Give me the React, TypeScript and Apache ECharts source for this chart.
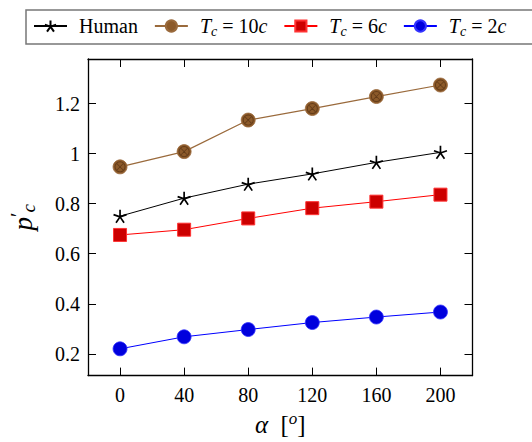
import React, { useEffect, useRef } from "react";
import * as echarts from "echarts";

const alphaDeg = [0, 40, 80, 120, 160, 200];
const human = [0.75, 0.822, 0.878, 0.919, 0.965, 1.005];
const tc10 = [0.947, 1.008, 1.134, 1.18, 1.228, 1.274];
const tc6 = [0.675, 0.696, 0.741, 0.782, 0.808, 0.836];
const tc2 = [0.22, 0.268, 0.297, 0.325, 0.347, 0.367];
const xTicks = [0, 40, 80, 120, 160, 200];
const yTicks = [0.2, 0.4, 0.6, 0.8, 1, 1.2];
const seriesNames = ["Human", "Tc10", "Tc6", "Tc2"];
const legendLabels: Record<string, string> = {
  Human: "{n|Human}",
  Tc10: "{it|T}{sub|c}{n| = 10}{it|c}",
  Tc6: "{it|T}{sub|c}{n| = 6}{it|c}",
  Tc2: "{it|T}{sub|c}{n| = 2}{it|c}",
};

const FONT = "'Liberation Serif', 'Times New Roman', 'DejaVu Serif', serif";

const STAR =
  "path://M0,-10 L0,0 M9.51,-3.09 L0,0 M5.88,8.09 L0,0 M-5.88,8.09 L0,0 M-9.51,-3.09 L0,0";
const OTIMES =
  "path://M10,0 A10,10 0 1,1 -10,0 A10,10 0 1,1 10,0 Z M8.3,0 A8.3,8.3 0 1,0 -8.3,0 A8.3,8.3 0 1,0 8.3,0 Z " +
  "M-6.5,-5.5 L5.5,6.5 L6.5,5.5 L-5.5,-6.5 Z M5.5,-6.5 L-6.5,5.5 L-5.5,6.5 L6.5,-5.5 Z";

const pairs = (ys: number[]) => alphaDeg.map((x, i) => [x, ys[i]]);

export default function App() {
  const ref = useRef<HTMLDivElement>(null);
  useEffect(() => {
    if (!ref.current) return;
    const chart = echarts.init(ref.current, undefined, { renderer: "svg" });
    const axisLine = { show: true, onZero: false, lineStyle: { color: "#000", width: 1.3 } };
    const tick = (vals: number[]) => ({
      show: true,
      inside: true,
      length: 8,
      customValues: vals,
      lineStyle: { color: "#000", width: 1 },
    });
    const rich = {
      n: { fontFamily: FONT, fontSize: 20, lineHeight: 24, color: "#000" },
      it: { fontFamily: FONT, fontSize: 20, lineHeight: 24, fontStyle: "italic", color: "#000" },
      sub: {
        fontFamily: FONT,
        fontSize: 14,
        lineHeight: 14,
        fontStyle: "italic",
        verticalAlign: "bottom",
        color: "#000",
      },
    };
    chart.setOption({
      animation: false,
      backgroundColor: "#fff",
      grid: { left: 87, right: 59.5, top: 59, bottom: 63 },
      legend: {
        data: seriesNames,
        left: 26,
        top: 10,
        width: 520,
        orient: "horizontal",
        itemWidth: 33,
        itemHeight: 14,
        itemGap: 16,
        padding: [6, 40, 6, 7],
        borderColor: "#777",
        borderWidth: 1.5,
        selectedMode: false,
        formatter: (name: string) => legendLabels[name],
        textStyle: { fontFamily: FONT, fontSize: 20, color: "#000", padding: [0, 0, 0, 7], rich },
      },
      xAxis: [
        {
          type: "value",
          min: -20,
          max: 220,
          position: "bottom",
          axisLine,
          axisTick: tick(xTicks),
          splitLine: { show: false },
          axisLabel: {
            customValues: xTicks,
            fontFamily: FONT,
            fontSize: 20,
            color: "#000",
            margin: 9,
          },
          name: "{it|α}{n|  [}{sup|o}{n|]}",
          nameLocation: "middle",
          nameGap: 33,
          nameTextStyle: {
            rich: {
              it: { fontFamily: FONT, fontSize: 25, fontStyle: "italic", lineHeight: 30, color: "#000" },
              n: { fontFamily: FONT, fontSize: 25, lineHeight: 30, color: "#000" },
              sup: {
                fontFamily: FONT,
                fontSize: 17,
                fontStyle: "italic",
                lineHeight: 17,
                verticalAlign: "top",
                color: "#000",
              },
            },
          },
        },
        {
          type: "value",
          min: -20,
          max: 220,
          position: "top",
          axisLine,
          axisTick: tick(xTicks),
          splitLine: { show: false },
          axisLabel: { show: false },
        },
      ],
      yAxis: [
        {
          type: "value",
          min: 0.113,
          max: 1.378,
          position: "left",
          axisLine,
          axisTick: tick(yTicks),
          splitLine: { show: false },
          axisLabel: {
            customValues: yTicks,
            formatter: (v: number) => String(v),
            fontFamily: FONT,
            fontSize: 20,
            color: "#000",
            margin: 8,
          },
          name: "{it|p}{sup|′}{sub|c}",
          nameLocation: "middle",
          nameGap: 50,
          nameTextStyle: {
            rich: {
              it: { fontFamily: FONT, fontSize: 27, fontStyle: "italic", lineHeight: 30, color: "#000" },
              sup: {
                fontFamily: FONT,
                fontSize: 20,
                lineHeight: 20,
                verticalAlign: "top",
                color: "#000",
              },
              sub: {
                fontFamily: FONT,
                fontSize: 19,
                fontStyle: "italic",
                lineHeight: 19,
                verticalAlign: "bottom",
                color: "#000",
              },
            },
          },
        },
        {
          type: "value",
          min: 0.113,
          max: 1.378,
          position: "right",
          axisLine,
          axisTick: tick(yTicks),
          splitLine: { show: false },
          axisLabel: { show: false },
        },
      ],
      series: [
        {
          name: "Human",
          type: "line",
          data: pairs(human),
          symbol: STAR,
          symbolSize: 13,
          lineStyle: { color: "#000", width: 1 },
          itemStyle: { color: "#000", borderColor: "#000", borderWidth: 1.7 },
          z: 3,
        },
        {
          name: "Tc10",
          type: "line",
          data: pairs(tc10),
          symbol: "circle",
          symbolSize: 14,
          lineStyle: { color: "#9a6a3c", width: 1.2 },
          itemStyle: { color: "#8c5a2a", borderColor: "#9a6a3c", borderWidth: 0.8 },
          z: 3,
        },
        {
          name: "Tc10x",
          type: "scatter",
          data: pairs(tc10),
          symbol: OTIMES,
          symbolSize: 11,
          itemStyle: { color: "#5a3414" },
          silent: true,
          z: 5,
        },
        {
          name: "Tc6",
          type: "line",
          data: pairs(tc6),
          symbol: "rect",
          symbolSize: 13,
          lineStyle: { color: "#ff0000", width: 1 },
          itemStyle: { color: "#cc0000", borderColor: "#ff3333", borderWidth: 1 },
          z: 3,
        },
        {
          name: "Tc2",
          type: "line",
          data: pairs(tc2),
          symbol: "circle",
          symbolSize: 14,
          lineStyle: { color: "#0000ff", width: 1 },
          itemStyle: { color: "#0000dd", borderColor: "#3333ff", borderWidth: 0.8 },
          z: 3,
        },
      ],
    });
    return () => chart.dispose();
  }, []);
  return (
    <div
      ref={ref}
      style={{ position: "absolute", left: 0, top: 0, width: 532, height: 442, background: "#fff" }}
    />
  );
}
